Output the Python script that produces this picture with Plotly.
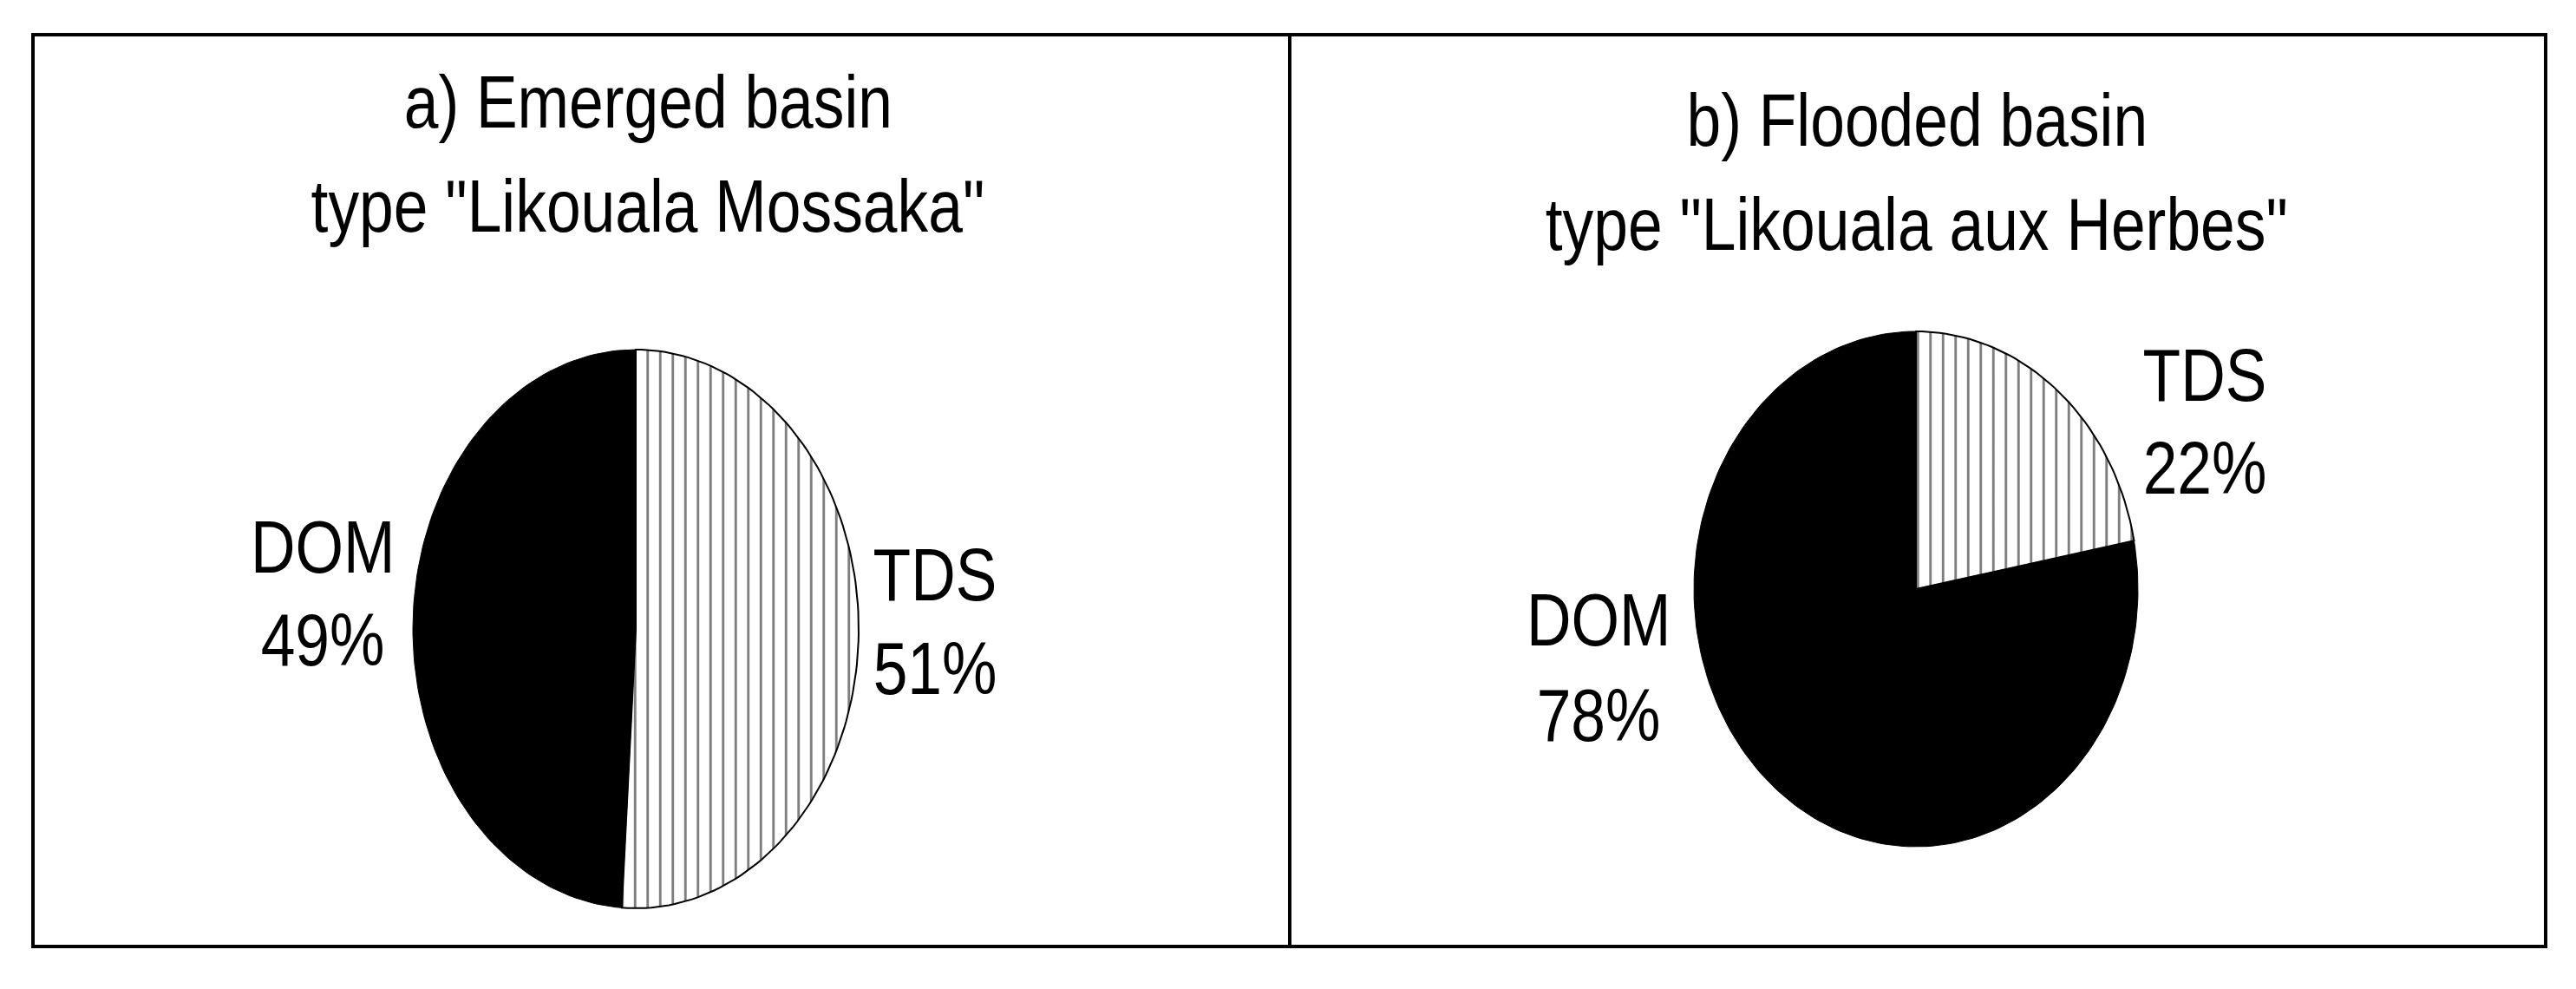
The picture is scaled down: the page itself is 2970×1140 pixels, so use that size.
import numpy as np
import plotly.graph_objects as go

# share of dissolved load, %
slice_labels = ["TDS", "DOM"]
emerged_values = [51, 49]
flooded_values = [22, 78]

panel_titles = [
    ["a) Emerged basin", 'type "Likouala Mossaka"'],
    ["b) Flooded basin", 'type "Likouala aux Herbes"'],
]

W, H = 2970, 1140
FONT = "Liberation Sans, Arial, sans-serif"
FONT_SIZE = 86

# pixel layout of each panel: pie centre, radii, title line y, label spots
panels = [
    dict(values=emerged_values, cx=733, cy=725, rx=257, ry=322,
         title_x=747, title_y=[117, 237],
         label_pos={"TDS": (1078, 662, 770), "DOM": (372, 630, 737)}),
    dict(values=flooded_values, cx=2209, cy=679, rx=256, ry=297,
         title_x=2210, title_y=[138, 258],
         label_pos={"TDS": (2542, 432, 539), "DOM": (1843, 714, 824)}),
]


def wedge(cx, cy, rx, ry, a0, a1, n=240):
    # angles measured clockwise from 12 o'clock, y grows downward
    t = np.linspace(a0, a1, max(int(n * (a1 - a0) / (2 * np.pi)), 8))
    xs = np.concatenate([[cx], cx + rx * np.sin(t), [cx]])
    ys = np.concatenate([[cy], cy - ry * np.cos(t), [cy]])
    return xs, ys


fig = go.Figure()

for p in panels:
    total = sum(p["values"])
    start = 0.0
    for lab, val in zip(slice_labels, p["values"]):
        end = start + 2 * np.pi * val / total
        xs, ys = wedge(p["cx"], p["cy"], p["rx"], p["ry"], start, end)
        if lab == "TDS":
            fig.add_trace(go.Scatter(
                x=xs, y=ys, mode="lines", fill="toself",
                line=dict(color="black", width=2),
                fillcolor="white",
                fillpattern=dict(shape="|", fgcolor="black", bgcolor="white",
                                 size=14.5, solidity=0.2),
                hoverinfo="skip", showlegend=False,
            ))
        else:
            fig.add_trace(go.Scatter(
                x=xs, y=ys, mode="lines", fill="toself",
                line=dict(color="black", width=1),
                fillcolor="black",
                hoverinfo="skip", showlegend=False,
            ))
        # labels: name on first line, percentage below
        lx, ly1, ly2 = p["label_pos"][lab]
        for txt, ly in [(lab, ly1), (f"{val}%", ly2)]:
            fig.add_annotation(x=lx, y=ly, text=txt, showarrow=False,
                               xanchor="center", yanchor="middle",
                               font=dict(family=FONT, size=FONT_SIZE, color="black"))
        start = end

for p, lines in zip(panels, panel_titles):
    for txt, ty in zip(lines, p["title_y"]):
        fig.add_annotation(x=p["title_x"], y=ty, text=txt, showarrow=False,
                           xanchor="center", yanchor="middle",
                           font=dict(family=FONT, size=FONT_SIZE, color="black"))

# frame around both panels and the divider
fig.add_shape(type="rect", x0=38, x1=2935, y0=40, y1=1091,
              line=dict(color="black", width=4))
fig.add_shape(type="line", x0=1487, x1=1487, y0=40, y1=1091,
              line=dict(color="black", width=4))

fig.update_layout(
    width=W, height=H,
    margin=dict(l=0, r=0, t=0, b=0),
    plot_bgcolor="white", paper_bgcolor="white",
    xaxis=dict(range=[0, W], visible=False, fixedrange=True),
    yaxis=dict(range=[H, 0], visible=False, fixedrange=True),
    showlegend=False,
)

# original uses a narrow sans face; squeeze the text horizontally
narrow_css = (
    "document.body.style.margin='0';"
    "var s=document.createElement('style');"
    "s.textContent='.annotation-text{transform-box:fill-box;"
    "transform-origin:center;transform:scaleX(0.83);}';"
    "document.head.appendChild(s);"
)

fig.write_html("out.html", config={"displayModeBar": False},
               post_script=narrow_css)
